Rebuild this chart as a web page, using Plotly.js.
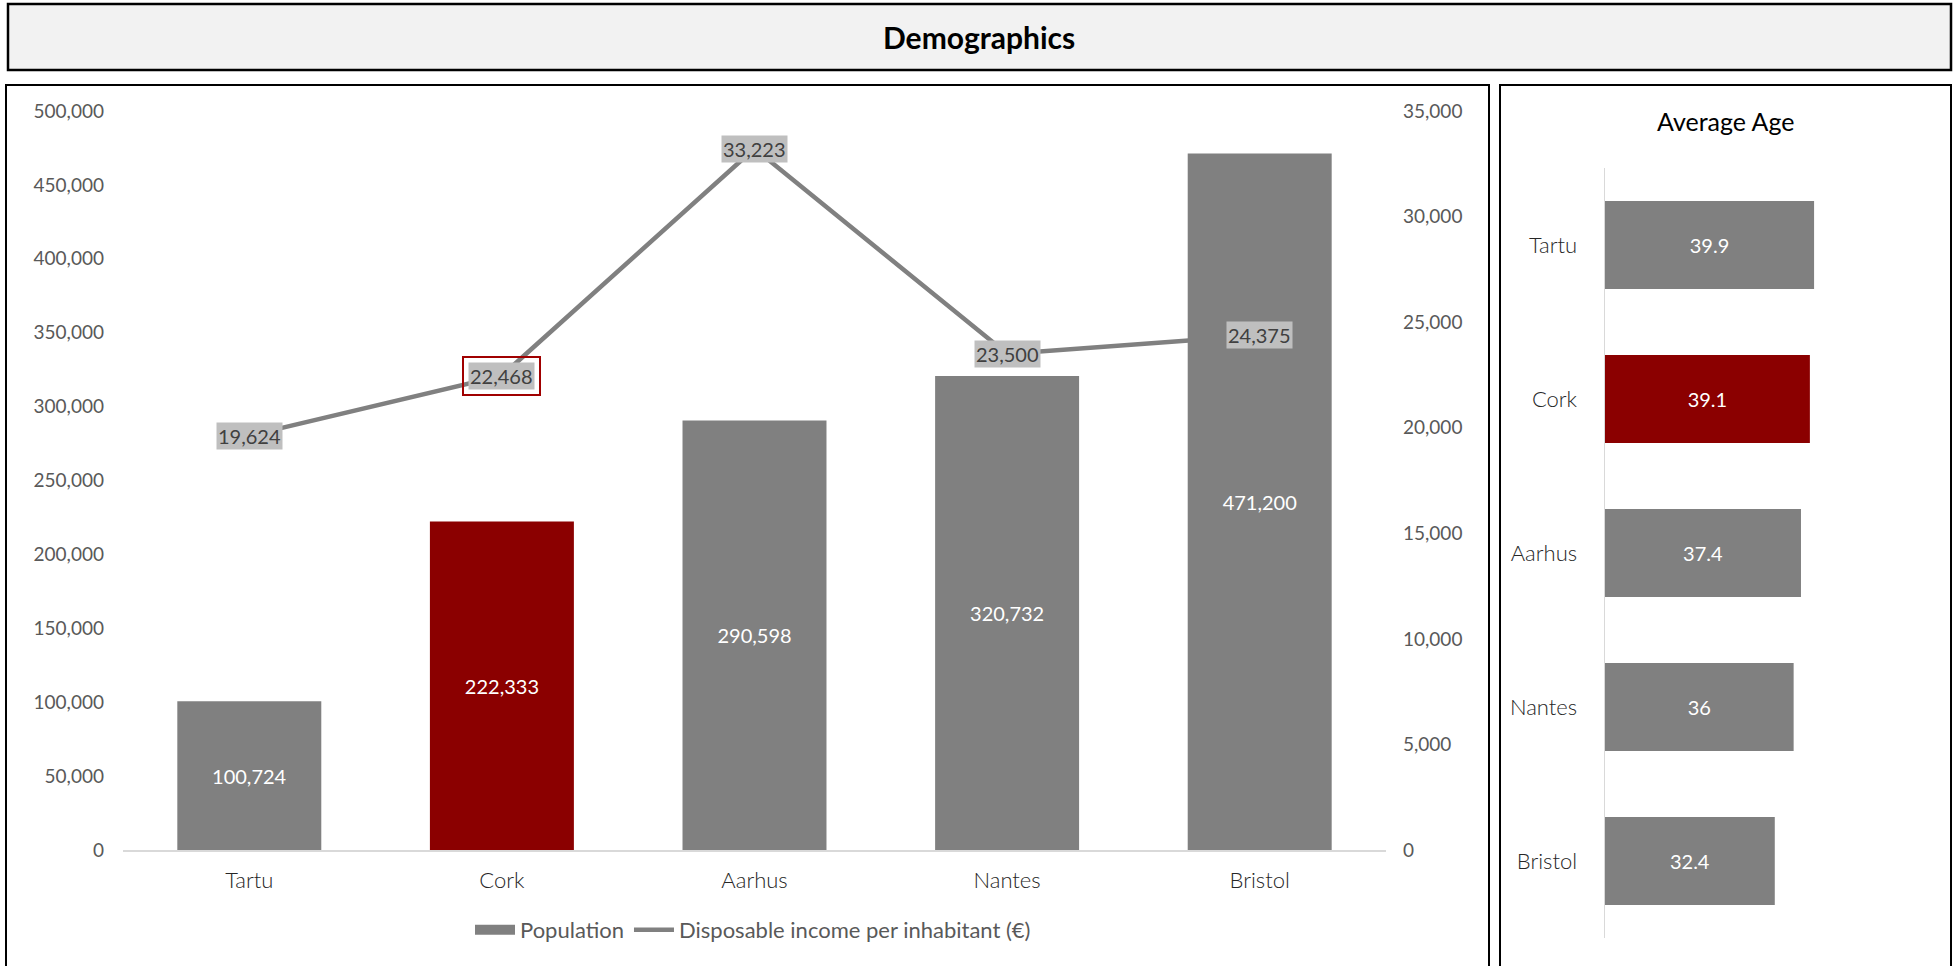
<!DOCTYPE html>
<html>
<head>
<meta charset="utf-8">
<script src="https://cdn.plot.ly/plotly-3.0.1.min.js"></script>
<style>
  html, body { margin: 0; padding: 0; background: #ffffff; }
  #chart { width: 1957px; height: 966px; }
</style>
</head>
<body>
<div id="chart"></div>
<script>
// ---- Data ----
const categories = ['Tartu', 'Cork', 'Aarhus', 'Nantes', 'Bristol'];
const population = [100724, 222333, 290598, 320732, 471200];
const income = [19624, 22468, 33223, 23500, 24375];
const avgAge = [39.9, 39.1, 37.4, 36, 32.4];
const highlight = 'Cork';
const mainTitle = 'Demographics';
const sideTitle = 'Average Age';
const seriesNames = ['Population', 'Disposable income per inhabitant (€)'];

// ---- Styling ----
const W = 1957, H = 966;
const GRAY = '#808080', RED = '#8B0000';
const FONT = 'Lato, "Open Sans", sans-serif';
const px = v => v / W;
const py = v => 1 - v / H;
const fmt = v => v.toLocaleString('en-US');
const barColors = categories.map(c => c === highlight ? RED : GRAY);

const traces = [
  {
    type: 'bar', name: seriesNames[0], showlegend: false,
    x: categories, y: population,
    marker: { color: barColors },
    text: population.map(fmt),
    textposition: 'inside', insidetextanchor: 'middle', textangle: 0,
    insidetextfont: { color: '#ffffff', size: 20, family: FONT },
    xaxis: 'x', yaxis: 'y', hoverinfo: 'skip'
  },
  // legend entry for the Population bars (wide rectangular swatch)
  {
    type: 'scatter', mode: 'lines', name: seriesNames[0],
    x: [null], y: [null],
    line: { color: GRAY, width: 15 },
    xaxis: 'x', yaxis: 'y', hoverinfo: 'skip'
  },
  {
    type: 'scatter', mode: 'lines', name: seriesNames[1],
    x: categories, y: income,
    line: { color: GRAY, width: 4.5 },
    xaxis: 'x', yaxis: 'y2', hoverinfo: 'skip'
  },
  {
    type: 'bar', orientation: 'h', showlegend: false,
    x: avgAge, y: categories,
    marker: { color: barColors },
    text: avgAge.map(v => String(v)),
    textposition: 'inside', insidetextanchor: 'middle', textangle: 0,
    insidetextfont: { color: '#ffffff', size: 20, family: FONT },
    xaxis: 'x3', yaxis: 'y3', hoverinfo: 'skip'
  }
];

// line labels as annotations
const annotations = [];
categories.forEach((c, i) => {
  if (c === highlight) {
    annotations.push({
      x: c, y: income[i], xref: 'x', yref: 'y2', showarrow: false,
      text: fmt(income[i]), font: { size: 20, family: FONT, color: 'rgba(0,0,0,0)' },
      bgcolor: 'rgba(0,0,0,0)', bordercolor: '#A00000', borderwidth: 2, borderpad: 6
    });
  }
  annotations.push({
    x: c, y: income[i], xref: 'x', yref: 'y2', showarrow: false,
    text: fmt(income[i]), font: { size: 20, family: FONT, color: '#404040' },
    bgcolor: '#BFBFBF', borderpad: 1
  });
});
annotations.push({
  x: 0.5, y: py(37), xref: 'paper', yref: 'paper', showarrow: false,
  xanchor: 'center', yanchor: 'middle',
  text: '<b>' + mainTitle + '</b>', font: { size: 30, family: FONT, color: '#000000' }
});
annotations.push({
  x: px(1726), y: py(121), xref: 'paper', yref: 'paper', showarrow: false,
  xanchor: 'center', yanchor: 'middle',
  text: sideTitle, font: { size: 25, family: FONT, color: '#000000' }
});

const shapes = [
  { type: 'rect', xref: 'paper', yref: 'paper', x0: px(8), x1: px(1951), y0: py(70), y1: py(4),
    line: { color: '#000000', width: 2.5 }, fillcolor: '#F2F2F2', layer: 'below' },
  { type: 'rect', xref: 'paper', yref: 'paper', x0: px(6), x1: px(1489), y0: -0.05, y1: py(85),
    line: { color: '#000000', width: 2 }, fillcolor: 'rgba(0,0,0,0)', layer: 'below' },
  { type: 'rect', xref: 'paper', yref: 'paper', x0: px(1500), x1: px(1951), y0: -0.05, y1: py(85),
    line: { color: '#000000', width: 2 }, fillcolor: 'rgba(0,0,0,0)', layer: 'below' }
];

const tickFont = { size: 19, family: FONT, color: '#595959' };
const catFont = { size: 22, family: FONT, color: '#262626', weight: 300 };

const layout = {
  width: W, height: H,
  margin: { l: 0, r: 0, t: 0, b: 0 },
  paper_bgcolor: '#ffffff', plot_bgcolor: 'rgba(0,0,0,0)',
  font: { family: FONT },
  showlegend: true,
  bargap: 0.43,
  legend: {
    orientation: 'h', x: px(753), xanchor: 'center', y: py(930), yanchor: 'middle',
    font: { size: 22, family: FONT, color: '#595959' }, traceorder: 'normal',
    itemwidth: 40
  },
  xaxis: {
    domain: [px(123), px(1386)], anchor: 'y',
    showline: true, linecolor: '#D9D9D9', linewidth: 1.5,
    showgrid: false, zeroline: false, ticks: '',
    tickfont: catFont,
    ticklabelstandoff: 10
  },
  yaxis: {
    domain: [py(850), py(111)], anchor: 'x',
    range: [0, 500000], dtick: 50000, tickformat: ',d',
    showgrid: false, zeroline: false, showline: false, ticks: '',
    tickfont: tickFont, ticklabelstandoff: 18
  },
  yaxis2: {
    overlaying: 'y', side: 'right', anchor: 'x',
    range: [0, 35000], dtick: 5000, tickformat: ',d',
    showgrid: false, zeroline: false, showline: false, ticks: '',
    tickfont: tickFont, ticklabelstandoff: 16
  },
  xaxis3: {
    domain: [px(1605), px(1867)], anchor: 'y3',
    range: [0, 50], visible: false, fixedrange: true
  },
  yaxis3: {
    domain: [py(938), py(168)], anchor: 'x3',
    autorange: 'reversed',
    showline: true, linecolor: '#D9D9D9', linewidth: 1.5,
    showgrid: false, zeroline: false, ticks: '',
    tickfont: catFont,
    ticklabelstandoff: 22
  },
  annotations: annotations,
  shapes: shapes
};

Plotly.newPlot('chart', traces, layout, { displayModeBar: false, staticPlot: true });
</script>
</body>
</html>
